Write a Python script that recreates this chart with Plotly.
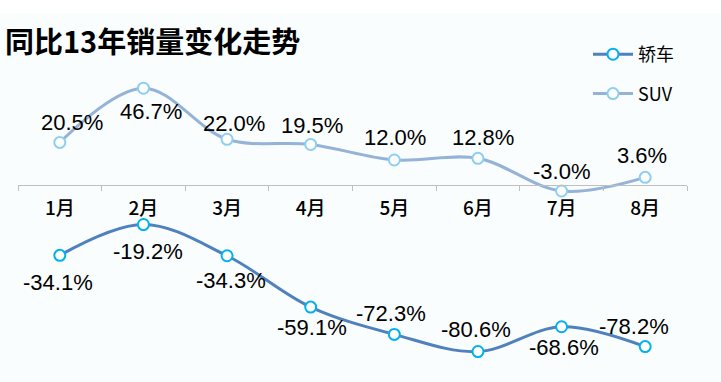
import plotly.graph_objects as go

months = ["1月", "2月", "3月", "4月", "5月", "6月", "7月", "8月"]
sedan = [-34.1, -19.2, -34.3, -59.1, -72.3, -80.6, -68.6, -78.2]
suv = [20.5, 46.7, 22.0, 19.5, 12.0, 12.8, -3.0, 3.6]
title_text = "同比13年销量变化走势"
sedan_name = "轿车"
suv_name = "SUV"

# label offsets in pixels (dx right, dy down)
suv_off = [(12, -20), (8, 23), (7, -16), (1, -19), (1, -22), (5, -21), (0, -20), (-3, -22)]
sedan_off = [(-2, 27), (5, 27), (4, 25), (1, 20), (-3, -21), (-2, -22), (2, 21), (-11, -20)]

W, H = 721, 382
ML, MR, MT, MB = 18, 34, 40, 11
YMIN, YMAX = -90, 70
plot_w = W - ML - MR
plot_h = H - MT - MB

SEDAN_LINE = "#4F81BD"
SEDAN_MARK = "#00B0F0"
SUV_LINE = "#95B3D7"
SUV_MARK = "#8DCFF2"
BG = "#F9FDFD"
CJK = "Noto Sans CJK SC"
LAT = "Liberation Sans"

fig = go.Figure()
fig.add_trace(go.Scatter(
    x=months, y=sedan, name=sedan_name, mode="lines+markers",
    line=dict(color=SEDAN_LINE, width=3, shape="spline", smoothing=1),
    marker=dict(symbol="circle", size=11, color="white", line=dict(color=SEDAN_MARK, width=2)),
    legendgroup="a", cliponaxis=False,
))
fig.add_trace(go.Scatter(
    x=months, y=suv, name=suv_name, mode="lines+markers",
    line=dict(color=SUV_LINE, width=3, shape="spline", smoothing=1),
    marker=dict(symbol="circle", size=11, color="white", line=dict(color=SUV_MARK, width=2)),
    legendgroup="b", cliponaxis=False,
))

annotations = []
for vals, offs in ((suv, suv_off), (sedan, sedan_off)):
    for m, v, (dx, dy) in zip(months, vals, offs):
        annotations.append(dict(
            x=m, y=v, xref="x", yref="y", text=f"{v:.1f}%", showarrow=False,
            xshift=dx, yshift=-dy, xanchor="center", yanchor="middle",
            font=dict(family=LAT, size=22, color="#000000"),
        ))

annotations.append(dict(
    x=(3 - ML) / plot_w, y=1 + (MT - 40) / plot_h,
    xref="paper", yref="paper", text=f"<b>{title_text}</b>", showarrow=False,
    xanchor="left", yanchor="middle",
    font=dict(family=CJK, size=29, color="#000000"),
))

fig.update_layout(
    width=W, height=H,
    margin=dict(l=ML, r=MR, t=MT, b=MB),
    paper_bgcolor=BG, plot_bgcolor=BG,
    showlegend=True,
    legend=dict(
        x=(588 - ML) / plot_w, y=1 + (MT - 36) / plot_h,
        xanchor="left", yanchor="top",
        bgcolor="rgba(0,0,0,0)", font=dict(family=CJK, size=18, color="#000000"),
        traceorder="grouped", tracegroupgap=13, itemwidth=40,
    ),
    xaxis=dict(
        type="category", anchor="free", position=(0 - YMIN) / (YMAX - YMIN),
        showline=True, linecolor="#BFBFBF", linewidth=1,
        ticks="outside", ticklen=5, tickcolor="#BFBFBF", tickwidth=1,
        tickson="boundaries", showgrid=False, zeroline=False,
        tickfont=dict(family=CJK, size=19, color="#000000", weight=500),
        ticklabelstandoff=6,
        range=[-0.5, 7.5],
    ),
    yaxis=dict(range=[YMIN, YMAX], visible=False, showgrid=False, zeroline=False),
    annotations=annotations,
    shapes=[dict(
        type="rect", xref="paper", yref="paper",
        x0=-ML / plot_w - 0.01, x1=1 + MR / plot_w + 0.01,
        y0=1 + (MT - 13) / plot_h, y1=1 + MT / plot_h + 0.01,
        fillcolor="white", line=dict(width=0), layer="below",
    )],
)

fig.write_html("out.html")
